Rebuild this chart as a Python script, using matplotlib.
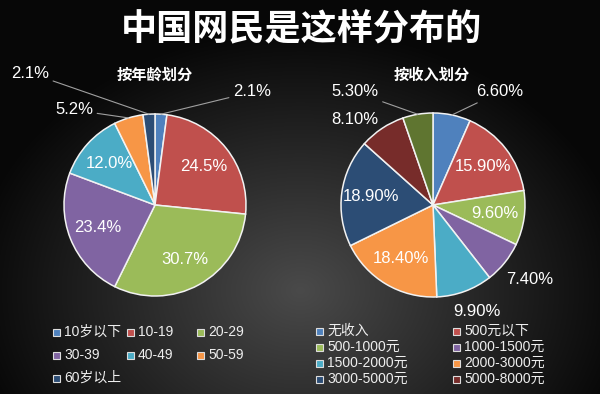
import numpy as np
import matplotlib
matplotlib.use('Agg')
import matplotlib.pyplot as plt
from matplotlib.patches import Rectangle

plt.rcParams['font.family'] = ['Liberation Sans', 'Noto Sans CJK SC']

# 数据
age_names = ['10岁以下', '10-19', '20-29', '30-39', '40-49', '50-59', '60岁以上']
age_vals = [2.1, 24.5, 30.7, 23.4, 12.0, 5.2, 2.1]
age_colors = ['#4F81BD', '#C0504D', '#9BBB59', '#8064A2', '#4BACC6', '#F79646', '#2C4D75']

inc_names = ['无收入', '500元以下', '500-1000元', '1000-1500元', '1500-2000元',
             '2000-3000元', '3000-5000元', '5000-8000元', '8000元以上']
inc_vals = [6.6, 15.9, 9.6, 7.4, 9.9, 18.4, 18.9, 8.1, 5.3]
inc_labels = ['6.60%', '15.90%', '9.60%', '7.40%', '9.90%', '18.40%', '18.90%', '8.10%', '5.30%']
inc_colors = ['#4F81BD', '#C0504D', '#9BBB59', '#8064A2', '#4BACC6', '#F79646',
              '#2C4D75', '#772C2A', '#5F7530']

W, H = 600, 394
fig = plt.figure(figsize=(W / 100, H / 100), dpi=100)

# 背景渐变
bg = fig.add_axes([0, 0, 1, 1])
yy, xx = np.mgrid[0:H, 0:W]
d = np.sqrt(((xx - 300) / 330.0) ** 2 + ((yy - 290) / 260.0) ** 2)
g = np.clip(0.29 - 0.26 * d, 0.03, 1)
bg.imshow(np.dstack([g, g, g]), extent=[0, W, H, 0], aspect='auto')
bg.set_xlim(0, W)
bg.set_ylim(H, 0)
bg.axis('off')


def px(x, y):
    return (x / W, (H - y) / H)


def draw_pie(cx, cy, r, vals, colors, labels, outside):
    ax = fig.add_axes([(cx - r) / W, (H - cy - r) / H, 2 * r / W, 2 * r / H])
    wedges, _ = ax.pie(vals, colors=colors, startangle=90, counterclock=False,
                       radius=1, wedgeprops=dict(edgecolor='#f2f2f2', linewidth=1.1))
    ax.set_xlim(-1, 1)
    ax.set_ylim(-1, 1)
    ax.axis('off')
    for i, w in enumerate(wedges):
        mid = np.deg2rad((w.theta1 + w.theta2) / 2)
        if i in outside:
            tx, ty, line = outside[i]
            pos = px(tx, ty)
            if line:
                ax.annotate(labels[i], xy=(np.cos(mid), np.sin(mid)), xycoords='data',
                            xytext=pos, textcoords='figure fraction',
                            ha='center', va='center', color='white', fontsize=12,
                            arrowprops=dict(arrowstyle='-', color='#a0a0a0', lw=0.8,
                                            shrinkA=1, shrinkB=0))
            else:
                fig.text(pos[0], pos[1], labels[i], ha='center', va='center',
                         color='white', fontsize=12)
        else:
            ax.text(0.68 * np.cos(mid), 0.68 * np.sin(mid), labels[i],
                    ha='center', va='center', color='white', fontsize=12)
    return ax


age_labels = ['%.1f%%' % v for v in age_vals]
draw_pie(155, 205, 91, age_vals, age_colors, age_labels,
         {0: (252, 92, True), 5: (74, 110, True), 6: (30, 73, True)})
draw_pie(433, 205, 92, inc_vals, inc_colors, inc_labels,
         {0: (500, 92, True), 8: (355, 92, True), 7: (355, 120, False),
          3: (530, 280, False), 4: (477, 312, False)})

# 标题
fig.text(*px(301, 29), '中国网民是这样分布的', ha='center', va='center', color='white',
         fontsize=26, fontweight='heavy', family='Noto Sans CJK SC')
fig.text(*px(155, 75), '按年龄划分', ha='center', va='center', color='white',
         fontsize=11, fontweight='bold', family='Noto Sans CJK SC')
fig.text(*px(432, 75), '按收入划分', ha='center', va='center', color='white',
         fontsize=11, fontweight='bold', family='Noto Sans CJK SC')


def draw_legend(names, colors, cols, rows):
    n = 0
    for y in rows:
        for x in cols:
            if n >= len(names):
                return
            fig.patches.append(Rectangle(px(x, y + 3.5), 7 / W, 7 / H,
                                         transform=fig.transFigure, facecolor=colors[n],
                                         edgecolor='#dddddd', linewidth=0.8))
            fig.text(*px(x + 11, y), names[n], ha='left', va='center',
                     color='#eeeeee', fontsize=10)
            n += 1


draw_legend(age_names, age_colors, [53, 127, 197], [332, 355, 378])
draw_legend(inc_names[:8], inc_colors[:8], [316, 453], [331, 347, 363, 379])

fig.savefig('out.png', dpi=100)
